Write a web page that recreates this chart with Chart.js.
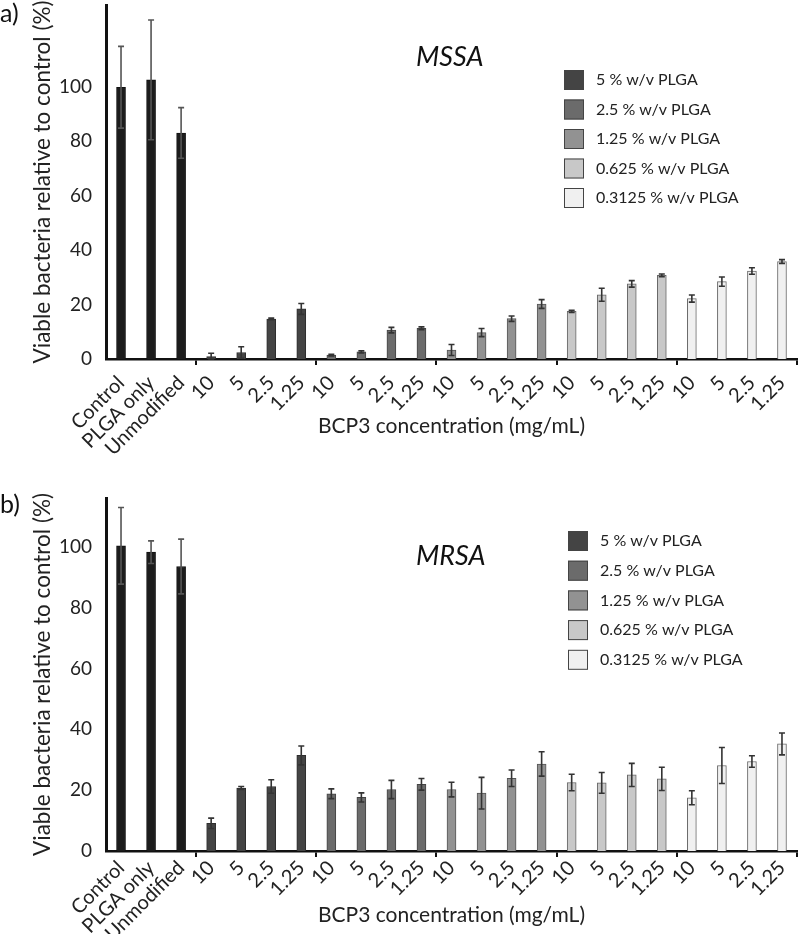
<!DOCTYPE html>
<html>
<head>
<meta charset="utf-8">
<script src="https://cdn.jsdelivr.net/npm/chart.js@4.4.1/dist/chart.umd.min.js"></script>
<style>
  html, body { margin: 0; padding: 0; background: #fff; }
  .panel { position: absolute; left: 0; width: 800px; height: 467px; }
</style>
</head>
<body>
<div class="panel" style="top:0"><canvas id="mssaChart" width="800" height="467"></canvas></div>
<div class="panel" style="top:467px"><canvas id="mrsaChart" width="800" height="467"></canvas></div>
<script>
// categories
const controlLabels = ['Control', 'PLGA only', 'Unmodified'];
const concLabels = ['10', '5', '2.5', '1.25'];
const plgaLabels = ['5 % w/v PLGA', '2.5 % w/v PLGA', '1.25 % w/v PLGA', '0.625 % w/v PLGA', '0.3125 % w/v PLGA'];
const yTicks = [0, 20, 40, 60, 80, 100];

// a) MSSA
const mssaControls = [99.8, 102.5, 83.0];
const mssaControlsErr = [15.0, 22.0, 9.3];
const mssa5 = [0.9, 2.4, 14.7, 18.4];
const mssa5Err = [1.2, 2.1, 0.3, 2.0];
const mssa25 = [1.4, 2.6, 10.6, 11.3];
const mssa25Err = [0.3, 0.4, 1.0, 0.5];
const mssa125 = [3.3, 9.7, 14.8, 20.2];
const mssa125Err = [2.0, 1.5, 1.0, 1.6];
const mssa0625 = [17.5, 23.6, 27.6, 30.7];
const mssa0625Err = [0.4, 2.4, 1.2, 0.5];
const mssa03125 = [22.2, 28.4, 32.3, 35.8];
const mssa03125Err = [1.3, 1.7, 1.2, 0.7];

// b) MRSA
const mrsaControls = [100.3, 98.2, 93.5];
const mrsaControlsErr = [12.6, 3.7, 9.0];
const mrsa5 = [9.1, 20.7, 21.2, 31.4];
const mrsa5Err = [1.7, 0.5, 2.2, 3.1];
const mrsa25 = [18.8, 17.6, 20.2, 21.9];
const mrsa25Err = [1.6, 1.5, 3.0, 1.9];
const mrsa125 = [20.2, 19.0, 23.9, 28.6];
const mrsa125Err = [2.4, 5.2, 2.7, 4.0];
const mrsa0625 = [22.5, 22.4, 25.0, 23.7];
const mrsa0625Err = [2.7, 3.4, 3.8, 3.8];
const mrsa03125 = [17.5, 28.1, 29.4, 35.2];
const mrsa03125Err = [2.3, 5.9, 1.9, 3.6];

Chart.defaults.font.family = "Lato, 'Open Sans', sans-serif";
Chart.defaults.color = '#222';

const controlStyle = { bg: '#1c1c1c', border: '#111', err: '#555' };
const seriesStyle = [
  { bg: '#444444', border: '#2e2e2e', err: '#333' },
  { bg: '#6b6b6b', border: '#444', err: '#333' },
  { bg: '#929292', border: '#555', err: '#333' },
  { bg: '#c8c8c8', border: '#666', err: '#333' },
  { bg: '#f0f0f0', border: '#6a6a6a', err: '#333' }
];

const errorBars = {
  id: 'errorBars',
  afterDatasetsDraw(chart) {
    const ctx = chart.ctx;
    const yScale = chart.scales.y;
    chart.data.datasets.forEach((ds, di) => {
      const meta = chart.getDatasetMeta(di);
      meta.data.forEach((bar, i) => {
        const v = ds.data[i], e = ds.errors[i];
        if (v == null || e == null) return;
        const yTop = yScale.getPixelForValue(v + e);
        const yBot = yScale.getPixelForValue(Math.max(0, v - e));
        ctx.save();
        ctx.strokeStyle = ds.errorColor;
        ctx.lineWidth = 1.6;
        ctx.beginPath();
        ctx.moveTo(bar.x, yTop); ctx.lineTo(bar.x, yBot);
        ctx.moveTo(bar.x - 3, yTop); ctx.lineTo(bar.x + 3, yTop);
        ctx.moveTo(bar.x - 3, yBot); ctx.lineTo(bar.x + 3, yBot);
        ctx.stroke();
        ctx.restore();
      });
    });
  }
};

const panelDecor = {
  id: 'panelDecor',
  afterDraw(chart, args, o) {
    const ctx = chart.ctx;
    ctx.save();
    ctx.textBaseline = 'middle';
    ctx.fillStyle = '#111';
    ctx.font = "25px Lato, 'Open Sans', sans-serif";
    ctx.fillText(o.panel, 0, o.panelY);
    ctx.font = "italic 27px Lato, 'Open Sans', sans-serif";
    ctx.fillText(o.species, o.speciesX, o.speciesY);
    ctx.font = "16px Lato, 'Open Sans', sans-serif";
    chart.data.datasets.filter(ds => ds.inLegend).forEach((ds, i) => {
      const y = o.legendY + i * o.legendGap;
      ctx.fillStyle = ds.backgroundColor;
      ctx.fillRect(o.legendX, y - 10, 20, 20);
      ctx.strokeStyle = '#444';
      ctx.lineWidth = 1;
      ctx.strokeRect(o.legendX + 0.5, y - 9.5, 19, 19);
      ctx.fillStyle = '#222';
      ctx.fillText(ds.label, o.legendX + 32, y);
    });
    ctx.restore();
  }
};

function buildChart(canvasId, controls, controlsErr, series, seriesErr, opts) {
  const labels = controlLabels.concat(...plgaLabels.map(() => concLabels));
  const nBars = labels.length;
  const place = (values, start) => {
    const out = new Array(nBars).fill(null);
    values.forEach((v, i) => { out[start + i] = v; });
    return out;
  };
  const groupStarts = [controlLabels.length];
  plgaLabels.forEach((_, k) => groupStarts.push(controlLabels.length + concLabels.length * (k + 1)));

  const datasets = [{
    label: 'controls',
    data: place(controls, 0),
    errors: place(controlsErr, 0),
    backgroundColor: controlStyle.bg,
    borderColor: controlStyle.border,
    errorColor: controlStyle.err,
    inLegend: false
  }].concat(series.map((vals, k) => ({
    label: plgaLabels[k],
    data: place(vals, controlLabels.length + concLabels.length * k),
    errors: place(seriesErr[k], controlLabels.length + concLabels.length * k),
    backgroundColor: seriesStyle[k].bg,
    borderColor: seriesStyle[k].border,
    errorColor: seriesStyle[k].err,
    inLegend: true
  })));
  datasets.forEach(ds => {
    ds.borderWidth = 1;
    ds.barThickness = 9;
    ds.grouped = false;
  });

  return new Chart(document.getElementById(canvasId), {
    type: 'bar',
    data: { labels, datasets },
    options: {
      responsive: false,
      animation: false,
      layout: { padding: { left: 0, top: opts.padTop, right: 3, bottom: opts.padBottom } },
      plugins: {
        legend: { display: false },
        tooltip: { enabled: false },
        panelDecor: opts.decor
      },
      scales: {
        x: {
          offset: true,
          grid: {
            display: true,
            drawOnChartArea: false,
            drawTicks: true,
            tickLength: 6,
            lineWidth: 2,
            color: c => (c.index === undefined || groupStarts.includes(c.index)) ? '#111' : 'rgba(0,0,0,0)'
          },
          border: { display: true, color: '#111', width: 2.5 },
          ticks: { autoSkip: false, minRotation: 45, maxRotation: 45, padding: opts.labelGap, font: { size: 20 }, color: '#222' },
          title: { display: true, text: 'BCP3 concentration (mg/mL)', font: { size: 21 }, color: '#222', padding: { top: 0, bottom: opts.titleGap } },
          afterFit: s => { s.height = opts.xHeight; s.paddingLeft = 0; s.paddingRight = 0; }
        },
        y: {
          min: 0,
          max: opts.yMax,
          afterBuildTicks: s => { s.ticks = yTicks.map(v => ({ value: v })); },
          grid: { display: false, drawTicks: false },
          border: { display: true, color: '#111', width: 3 },
          ticks: { padding: 14, font: { size: 19 }, color: '#222' },
          title: { display: true, text: 'Viable bacteria relative to control (%)', font: { size: 22.5 }, color: '#222', padding: { top: 29, bottom: 0 } },
          afterFit: s => { s.width = 106; s.paddingTop = 0; s.paddingBottom = 0; }
        }
      }
    },
    plugins: [errorBars, panelDecor]
  });
}

buildChart('mssaChart', mssaControls, mssaControlsErr,
  [mssa5, mssa25, mssa125, mssa0625, mssa03125],
  [mssa5Err, mssa25Err, mssa125Err, mssa0625Err, mssa03125Err],
  {
    yMax: 130, padTop: 5, padBottom: 12, xHeight: 96, titleGap: 16, labelGap: 6,
    decor: { panel: 'a)', panelY: 14, species: 'MSSA', speciesX: 416, speciesY: 57,
             legendX: 564, legendY: 80, legendGap: 29.5 }
  });

buildChart('mrsaChart', mrsaControls, mrsaControlsErr,
  [mrsa5, mrsa25, mrsa125, mrsa0625, mrsa03125],
  [mrsa5Err, mrsa25Err, mrsa125Err, mrsa0625Err, mrsa03125Err],
  {
    yMax: 116, padTop: 31, padBottom: 0, xHeight: 83, titleGap: 6, labelGap: -1,
    decor: { panel: 'b)', panelY: 38, species: 'MRSA', speciesX: 416, speciesY: 89,
             legendX: 568, legendY: 74, legendGap: 29.7 }
  });
</script>
</body>
</html>
